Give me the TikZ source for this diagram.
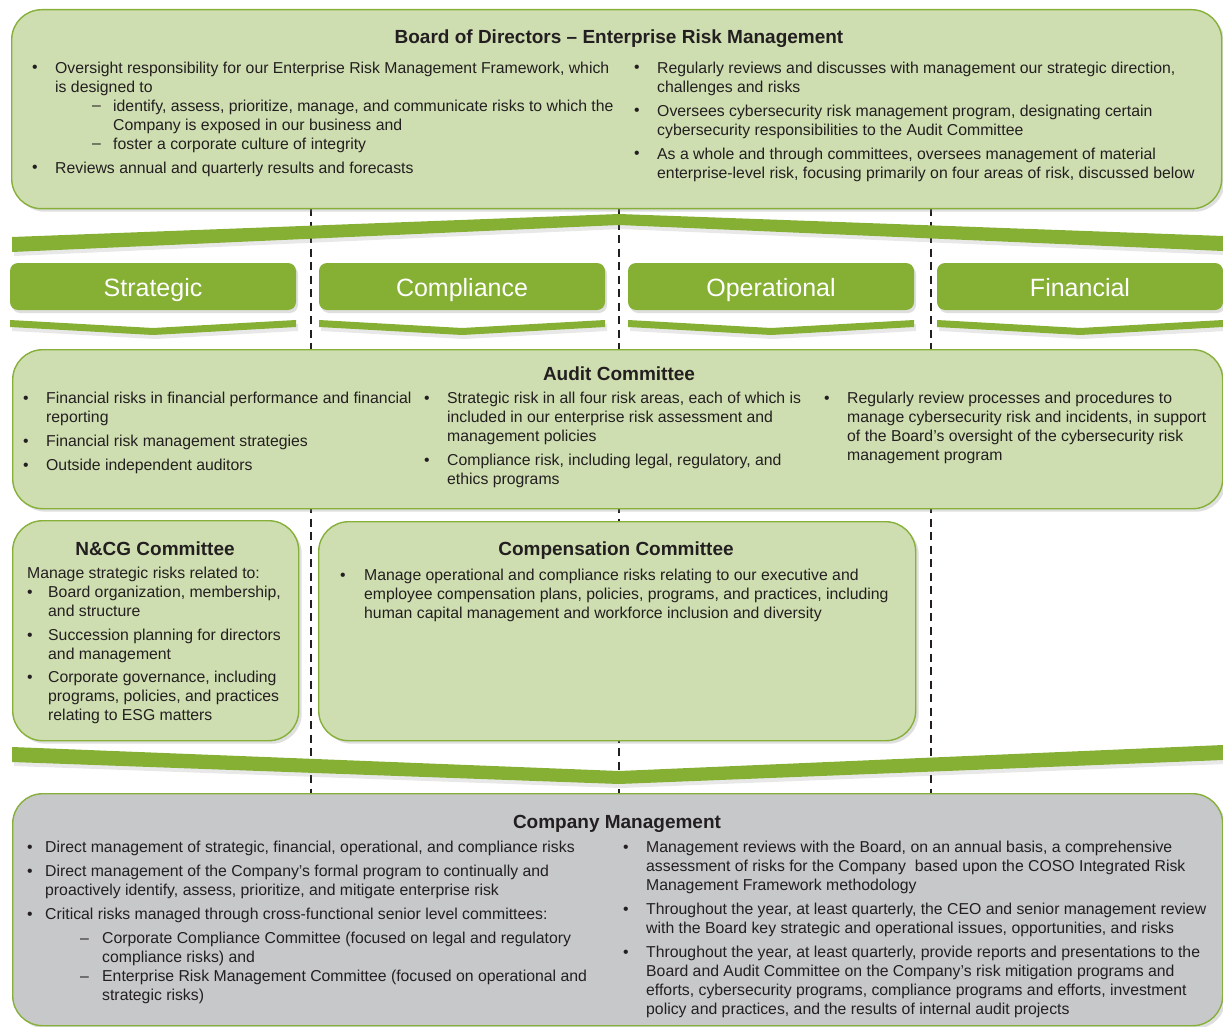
\documentclass[tikz,border=0pt]{standalone}
\usepackage{fontspec}
\setmainfont{Liberation Sans}
\usetikzlibrary{shadows}
\definecolor{leaf}{HTML}{CFDEB1}
\definecolor{moss}{HTML}{86B03A}
\definecolor{grass}{HTML}{85B034}
\definecolor{stone}{HTML}{C7C8CA}
\definecolor{ink}{HTML}{231F20}
\tikzset{
  panel/.style={draw=moss, line width=1.4pt, fill=leaf, rounded corners=30pt, anchor=north west, inner sep=0pt,
    drop shadow={opacity=0.25, shadow xshift=3pt, shadow yshift=-3pt}},
  catbox/.style={fill=grass, rounded corners=8pt, minimum width=286pt, minimum height=47pt, inner sep=0pt,
    drop shadow={opacity=0.25, shadow xshift=2pt, shadow yshift=-3pt}},
  band/.style={fill=grass, drop shadow={opacity=0.18, shadow xshift=2pt, shadow yshift=-4pt}},
  divider/.style={draw=ink, line width=2pt, dash pattern=on 8pt off 5.5pt},
  head/.style={anchor=base, inner sep=0pt, text=ink, font=\fontsize{19}{23}\selectfont\bfseries},
  catlabel/.style={anchor=base, inner sep=0pt, text=white, font=\fontsize{25}{30}\selectfont},
  body/.style={anchor=north west, yshift=11.4pt, align=left, inner sep=0pt, text=ink,
    font=\fontsize{15.8}{19}\selectfont},
  pip/.style={anchor=base west, inner sep=0pt, text=ink, font=\fontsize{15.8}{19}\selectfont}
}
\begin{document}
\begin{tikzpicture}[x=1pt, y=-1pt]
    \useasboundingbox (0,0) rectangle (1223,1027);
    \foreach \x in {311,619,931}
        \draw[divider] (\x,208) -- (\x,793);

    \node[panel, minimum width=1210pt, minimum height=199pt] (board) at (11,9) {};
    \node[head] (boardT) at (619,44) {Board of Directors – Enterprise Risk Management};
    \node[pip] (bm1) at (32,73) {•};
    \node[body] (bt1) at (55,73) {Oversight responsibility for our Enterprise Risk Management Framework, which\\is designed to};
    \node[pip] (bm2) at (92,111) {–};
    \node[body] (bt2) at (113,111) {identify, assess, prioritize, manage, and communicate risks to which the\\Company is exposed in our business and};
    \node[pip] (bm3) at (92,149) {–};
    \node[body] (bt3) at (113,149) {foster a corporate culture of integrity};
    \node[pip] (bm4) at (32,173) {•};
    \node[body] (bt4) at (55,173) {Reviews annual and quarterly results and forecasts};
    \node[pip] (bm5) at (634,73) {•};
    \node[body] (bt5) at (657,73) {Regularly reviews and discusses with management our strategic direction,\\challenges and risks};
    \node[pip] (bm6) at (634,116) {•};
    \node[body] (bt6) at (657,116) {Oversees cybersecurity risk management program, designating certain\\cybersecurity responsibilities to the Audit Committee};
    \node[pip] (bm7) at (634,159) {•};
    \node[body] (bt7) at (657,159) {As a whole and through committees, oversees management of material\\enterprise-level risk, focusing primarily on four areas of risk, discussed below};

    \fill[band] (12,237) -- (619,214) -- (1223,236) -- (1223,251) -- (619,225) -- (12,252) -- cycle;

    \foreach \lbl [count=\i] in {Strategic,Compliance,Operational,Financial}{
        \pgfmathsetmacro\cx{153+309*(\i-1)}
        \node[catbox] (cat\i) at (\cx,286.5) {};
        \node[catlabel] (catT\i) at (\cx,296) {\lbl};
        \fill[band] (\cx-143,320) -- (\cx,328) -- (\cx+143,320) -- (\cx+143,327) -- (\cx,335) -- (\cx-143,327) -- cycle;
    }

    \node[panel, minimum width=1210pt, minimum height=159pt] (audit) at (12,349) {};
    \node[head] (auditT) at (619,380) {Audit Committee};
    \node[pip] (am1) at (23,403) {•};
    \node[body] (at1) at (46,403) {Financial risks in financial performance and financial\\reporting};
    \node[pip] (am2) at (23,446) {•};
    \node[body] (at2) at (46,446) {Financial risk management strategies};
    \node[pip] (am3) at (23,470) {•};
    \node[body] (at3) at (46,470) {Outside independent auditors};
    \node[pip] (am4) at (424,403) {•};
    \node[body] (at4) at (447,403) {Strategic risk in all four risk areas, each of which is\\included in our enterprise risk assessment and\\management policies};
    \node[pip] (am5) at (424,465) {•};
    \node[body] (at5) at (447,465) {Compliance risk, including legal, regulatory, and\\ethics programs};
    \node[pip] (am6) at (824,403) {•};
    \node[body] (at6) at (847,403) {Regularly review processes and procedures to\\manage cybersecurity risk and incidents, in support\\of the Board's oversight of the cybersecurity risk\\management program};

    \node[panel, minimum width=286pt, minimum height=220pt] (ncg) at (12,520) {};
    \node[head] (ncgT) at (155,555) {N\&CG Committee};
    \node[body] (nt0) at (27,578) {Manage strategic risks related to:};
    \node[pip] (nm1) at (27,597) {•};
    \node[body] (nt1) at (48,597) {Board organization, membership,\\and structure};
    \node[pip] (nm2) at (27,640) {•};
    \node[body] (nt2) at (48,640) {Succession planning for directors\\and management};
    \node[pip] (nm3) at (27,682) {•};
    \node[body] (nt3) at (48,682) {Corporate governance, including\\programs, policies, and practices\\relating to ESG matters};

    \node[panel, minimum width=597pt, minimum height=219pt] (comp) at (318,521) {};
    \node[head] (compT) at (616,555) {Compensation Committee};
    \node[pip] (cm1) at (340,580) {•};
    \node[body] (ct1) at (364,580) {Manage operational and compliance risks relating to our executive and\\employee compensation plans, policies, programs, and practices, including\\human capital management and workforce inclusion and diversity};

    \fill[band] (12,747) -- (619,771) -- (1223,745) -- (1223,760) -- (619,784) -- (12,762) -- cycle;

    \node[panel, fill=stone, minimum width=1210pt, minimum height=232pt] (mgmt) at (12,793) {};
    \node[head] (mgmtT) at (617,828) {Company Management};
    \node[pip] (mm1) at (27,852) {•};
    \node[body] (mt1) at (45,852) {Direct management of strategic, financial, operational, and compliance risks};
    \node[pip] (mm2) at (27,876) {•};
    \node[body] (mt2) at (45,876) {Direct management of the Company's formal program to continually and\\proactively identify, assess, prioritize, and mitigate enterprise risk};
    \node[pip] (mm3) at (27,919) {•};
    \node[body] (mt3) at (45,919) {Critical risks managed through cross-functional senior level committees:};
    \node[pip] (mm4) at (80,943) {–};
    \node[body] (mt4) at (102,943) {Corporate Compliance Committee (focused on legal and regulatory\\compliance risks) and};
    \node[pip] (mm5) at (80,981) {–};
    \node[body] (mt5) at (102,981) {Enterprise Risk Management Committee (focused on operational and\\strategic risks)};
    \node[pip] (mm6) at (623,852) {•};
    \node[body] (mt6) at (646,852) {Management reviews with the Board, on an annual basis, a comprehensive\\assessment of risks for the Company \ based upon the COSO Integrated Risk\\Management Framework methodology};
    \node[pip] (mm7) at (623,914) {•};
    \node[body] (mt7) at (646,914) {Throughout the year, at least quarterly, the CEO and senior management review\\with the Board key strategic and operational issues, opportunities, and risks};
    \node[pip] (mm8) at (623,957) {•};
    \node[body] (mt8) at (646,957) {Throughout the year, at least quarterly, provide reports and presentations to the\\Board and Audit Committee on the Company's risk mitigation programs and\\efforts, cybersecurity programs, compliance programs and efforts, investment\\policy and practices, and the results of internal audit projects};
\end{tikzpicture}
\end{document}
